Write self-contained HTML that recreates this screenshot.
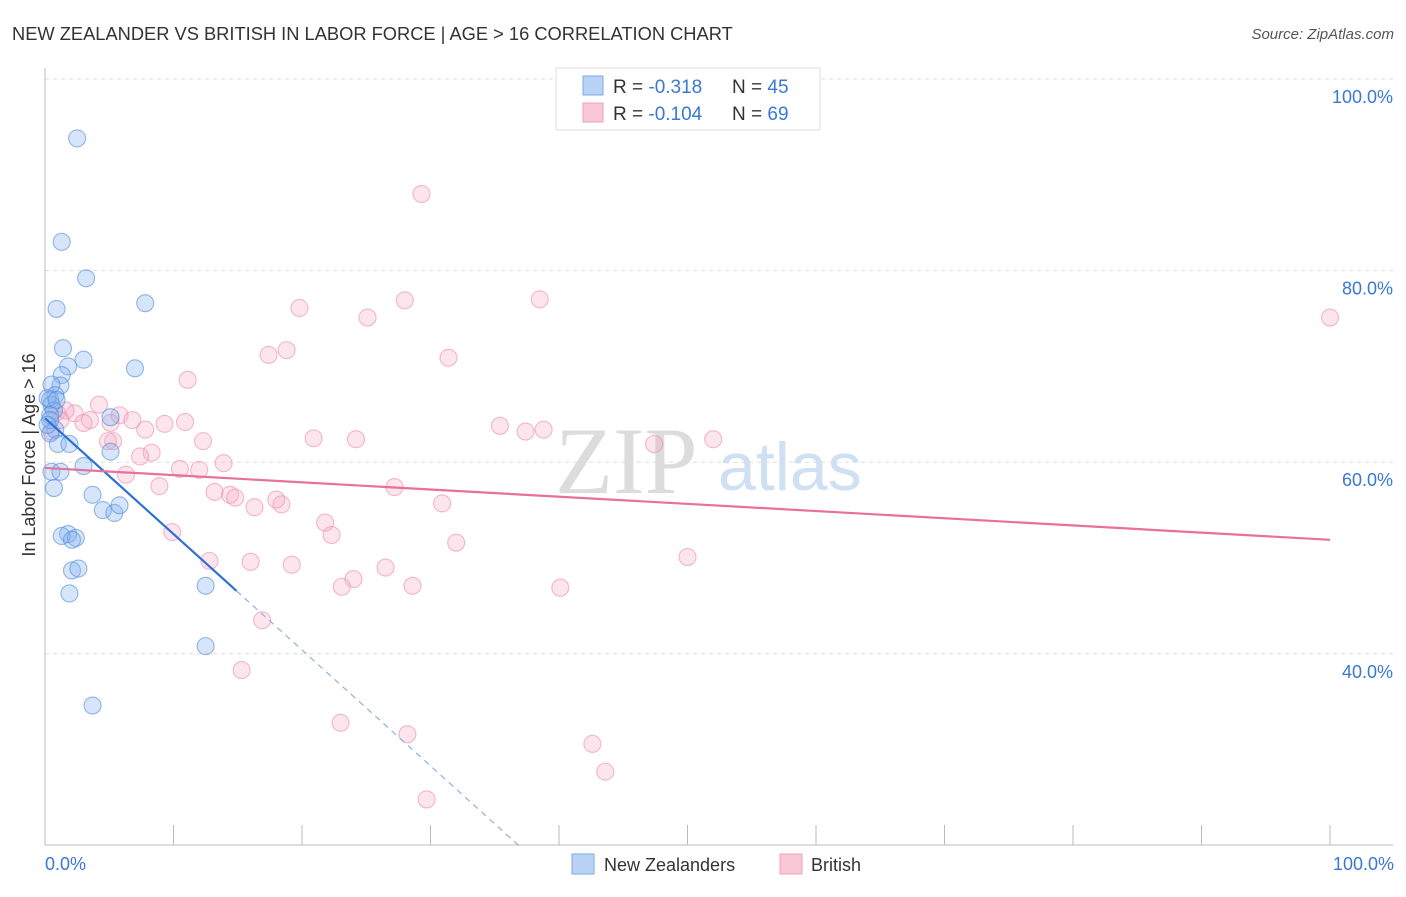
<!DOCTYPE html>
<html><head><meta charset="utf-8"><style>
body{margin:0;background:#fff;font-family:"Liberation Sans",sans-serif;}
</style></head><body>
<svg width="1406" height="892" xmlns="http://www.w3.org/2000/svg" font-family="Liberation Sans, sans-serif">
<text x="12" y="40" font-size="18.3" fill="#333">NEW ZEALANDER VS BRITISH IN LABOR FORCE | AGE &gt; 16 CORRELATION CHART</text>
<text x="1394" y="39" font-size="15" fill="#555" font-style="italic" text-anchor="end">Source: ZipAtlas.com</text>
<g id="grid"></g>
<g>
<text x="555" y="493" font-size="95" font-family="Liberation Serif, serif" fill="#dcdcdc">ZIP</text>
<text x="718" y="490" font-size="68" fill="#cfe0f3">atlas</text>
</g>
<g id="axes"></g>
<g id="pts"></g>
<g id="trends"></g>
<text x="35" y="455" font-size="18" fill="#333" text-anchor="middle" transform="rotate(-90 35 455)">In Labor Force | Age &gt; 16</text>
<text x="45" y="870" font-size="18" fill="#3a78d4">0.0%</text>
<text x="1394" y="870" font-size="18" fill="#3a78d4" text-anchor="end">100.0%</text>
<g>
<rect x="556" y="68" width="264" height="62" fill="#fff" stroke="#ddd"/>
<rect x="583" y="76" width="20" height="19" fill="#b9d3f5" stroke="#7aaae6"/>
<rect x="583" y="103" width="20" height="19" fill="#f9c8d6" stroke="#f0a0b8"/>
<text x="613" y="93" font-size="19" fill="#333">R = <tspan fill="#3a78d4">-0.318</tspan><tspan x="732">N = </tspan><tspan fill="#3a78d4">45</tspan></text>
<text x="613" y="120" font-size="19" fill="#333">R = <tspan fill="#3a78d4">-0.104</tspan><tspan x="732">N = </tspan><tspan fill="#3a78d4">69</tspan></text>
</g>
<g>
<rect x="572" y="854" width="22" height="20" fill="#b9d3f5" stroke="#7aaae6"/>
<text x="604" y="871" font-size="18" fill="#333">New Zealanders</text>
<rect x="780" y="854" width="22" height="20" fill="#f9c8d6" stroke="#f0a0b8"/>
<text x="811" y="871" font-size="18" fill="#333">British</text>
</g>
</svg>
<script>
const yTicks=[100,80,60,40];
const yTickLabels=["100.0%","80.0%","60.0%","40.0%"];
const nzX=[2.5,1.3,3.2,0.9,7.8,1.4,3.0,1.8,7.0,1.3,1.2,0.5,0.8,0.4,0.5,0.7,0.4,5.1,0.8,0.4,1.0,1.9,5.1,3.0,0.5,1.2,0.7,3.7,4.5,5.4,5.8,1.8,1.3,2.4,2.1,2.1,2.6,1.9,12.5,12.5,3.7,0.2,0.4,0.2,0.9];
const nzY=[93.8,83.0,79.2,76.0,76.6,71.9,70.7,70.0,69.8,69.1,68.0,68.1,67.0,66.5,66.0,65.4,64.9,64.7,63.4,63.0,61.9,61.9,61.1,59.6,59.0,59.0,57.3,56.6,55.0,54.7,55.5,52.5,52.3,52.1,51.9,48.7,48.9,46.3,47.1,40.8,34.6,66.7,64.4,63.9,66.5];
const brX=[29.3,19.8,28.0,38.5,25.1,100,17.4,18.8,31.4,11.1,4.2,5.8,6.8,2.3,1.6,3.5,3.0,5.1,9.3,10.9,7.8,12.3,5.3,4.9,20.9,24.2,35.4,37.4,38.8,47.4,52.0,8.3,7.4,13.9,10.5,12.0,6.3,8.9,13.2,14.4,14.8,16.3,18.0,18.4,27.2,30.9,21.8,22.3,9.9,32.0,50.0,12.8,16.0,19.2,26.5,24.0,23.1,28.6,40.1,16.9,15.3,23.0,28.2,42.6,43.6,29.7,0.9,0.5,1.2];
const brY=[88.0,76.1,76.9,77.0,75.1,75.1,71.2,71.7,70.9,68.6,66.0,64.9,64.4,65.1,65.4,64.4,64.1,64.1,64.0,64.2,63.4,62.2,62.2,62.2,62.5,62.4,63.8,63.2,63.4,61.9,62.4,61.0,60.6,59.9,59.3,59.2,58.7,57.5,56.9,56.6,56.3,55.3,56.1,55.6,57.4,55.7,53.7,52.4,52.7,51.6,50.1,49.7,49.6,49.3,49.0,47.8,47.0,47.1,46.9,43.5,38.3,32.8,31.6,30.6,27.7,24.8,65.2,63.2,64.4];
const nzTrend=[64.6,-1.21]; // intercept, slope
const brTrend=[59.4,-0.075];
const X=v=>45+v*12.85, Y=v=>79+(100-v)*9.58;
const NS="http://www.w3.org/2000/svg";
function mk(tag,attrs,parent){const e=document.createElementNS(NS,tag);for(const k in attrs)e.setAttribute(k,attrs[k]);parent.appendChild(e);return e;}
const grid=document.getElementById('grid'),axes=document.getElementById('axes'),pts=document.getElementById('pts'),tr=document.getElementById('trends');
yTicks.forEach((t,i)=>{
 const l=mk('line',{x1:45,x2:1393,y1:Y(t),y2:Y(t),stroke:'#ddd','stroke-dasharray':'4,4'},grid);
 
 
 const tx=mk('text',{x:1393,y:Y(t)+24,'font-size':18,fill:'#3a78d4','text-anchor':'end'},grid);
 tx.textContent=yTickLabels[i];
 
 
});
mk('line',{x1:45,x2:45,y1:68,y2:845,stroke:'#bbb'},axes);
mk('line',{x1:45,x2:1393,y1:845,y2:845,stroke:'#bbb'},axes);
for(let i=1;i<=10;i++){mk('line',{x1:X(i*10),x2:X(i*10),y1:825,y2:845,stroke:'#bbb'},axes);}
function dots(xs,ys,fill,stroke,name){xs.forEach((x,i)=>{
 const c=mk('circle',{cx:X(x),cy:Y(ys[i]),r:8.5,fill:fill,stroke:stroke,'stroke-width':1.1},pts);
 
 
});}
dots(brX,brY,'rgba(246,170,195,0.3)','rgba(236,140,170,0.6)','british-point');
dots(nzX,nzY,'rgba(130,175,240,0.33)','rgba(80,140,220,0.6)','nz-point');
const bEnd=14.9, bZero=(20-nzTrend[0])/nzTrend[1];
let l=mk('line',{x1:X(0),y1:Y(nzTrend[0]),x2:X(bEnd),y2:Y(nzTrend[0]+nzTrend[1]*bEnd),stroke:'#2f6fd6','stroke-width':2.2},tr);


l=mk('line',{x1:X(bEnd),y1:Y(nzTrend[0]+nzTrend[1]*bEnd),x2:X(bZero),y2:Y(20),stroke:'#8fb0e0','stroke-width':1.2,'stroke-dasharray':'6,5'},tr);


l=mk('line',{x1:X(0),y1:Y(brTrend[0]),x2:X(100),y2:Y(brTrend[0]+brTrend[1]*100),stroke:'#e8709a','stroke-width':2.2},tr);


</script>
</body></html>
